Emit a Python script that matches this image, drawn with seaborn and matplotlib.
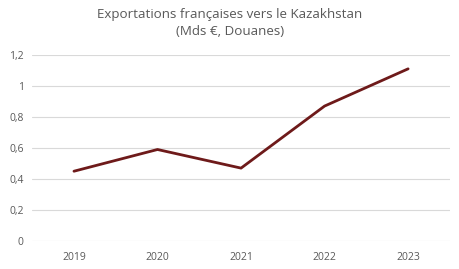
import matplotlib.pyplot as plt
import seaborn as sns
import pandas as pd

# Exportations françaises vers le Kazakhstan (Mds €)
years = ["2019", "2020", "2021", "2022", "2023"]
exports = [0.45, 0.59, 0.47, 0.87, 1.11]
yticks = [0, 0.2, 0.4, 0.6, 0.8, 1.0, 1.2]
ytick_labels = ["0", "0,2", "0,4", "0,6", "0,8", "1", "1,2"]

df = pd.DataFrame({"year": years, "exports": exports})

sns.set_style("white")
plt.rcParams["font.family"] = ["Open Sans", "DejaVu Sans"]

fig = plt.figure(figsize=(4.6, 2.69), dpi=100)
ax = fig.add_axes([0.07, 0.104, 0.908, 0.692])

sns.lineplot(data=df, x="year", y="exports", color="#6e1a1a", linewidth=2.0, ax=ax)

ax.set_xlim(-0.5, len(years) - 0.5)
ax.set_ylim(0, 1.2)
ax.set_yticks(yticks)
ax.set_yticklabels(ytick_labels)
ax.grid(axis="y", color="#d9d9d9", linewidth=0.8)
ax.set_axisbelow(True)
for s in ax.spines.values():
    s.set_visible(False)
ax.tick_params(axis="y", length=0, labelsize=7.5, labelcolor="#595959", pad=6)
ax.tick_params(axis="x", length=0, labelsize=7.5, labelcolor="#595959", pad=8)
ax.set_xlabel("")
ax.set_ylabel("")

fig.suptitle("Exportations françaises vers le Kazakhstan\n(Mds €, Douanes)",
             y=0.972, fontsize=9.6, color="#595959", linespacing=1.4)

fig.savefig("out.png", dpi=100)
